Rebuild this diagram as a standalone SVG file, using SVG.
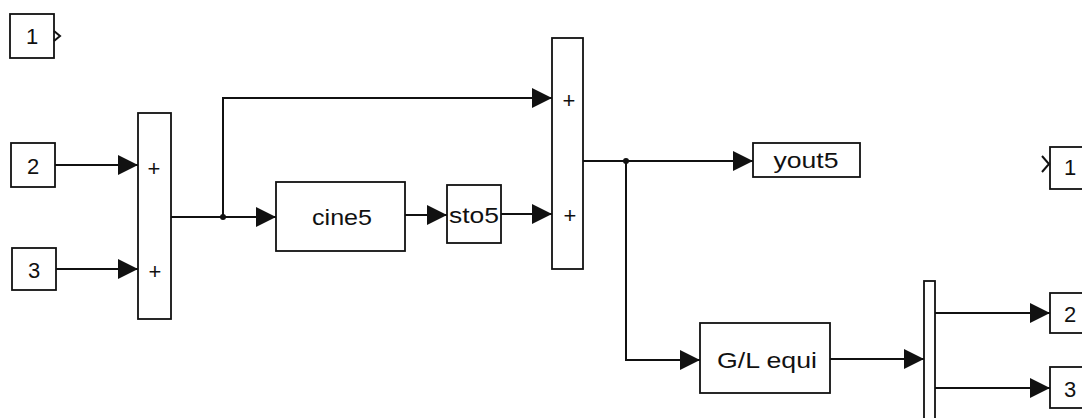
<svg xmlns="http://www.w3.org/2000/svg" width="1082" height="418" viewBox="0 0 1082 418">
  <style>
    .blk { fill: #fff; stroke: #111; stroke-width: 1.8; }
    .wire { fill: none; stroke: #111; stroke-width: 2; }
    .lbl { font-family: "Liberation Sans", Arial, sans-serif; font-size: 22px; fill: #111; text-anchor: middle; dominant-baseline: central; }
    .sign { font-family: "Liberation Sans", Arial, sans-serif; font-size: 22px; fill: #111; text-anchor: middle; dominant-baseline: central; }
  </style>
  <defs>
    <marker id="arr" markerUnits="userSpaceOnUse" markerWidth="20" markerHeight="20" refX="20" refY="10" orient="auto">
      <path d="M0,0 L20,10 L0,20 Z" fill="#111"/>
    </marker>
  </defs>

  <rect width="1082" height="418" fill="#fff"/>

  <!-- connectors -->
  <g id="connectors">
    <path class="wire" d="M55,165 H138" marker-end="url(#arr)"/>
    <path class="wire" d="M56,269 H138" marker-end="url(#arr)"/>
    <path class="wire" d="M171,217 H276" marker-end="url(#arr)"/>
    <path class="wire" d="M223,217 V98 H552" marker-end="url(#arr)"/>
    <circle cx="223" cy="217" r="3" fill="#111"/>
    <path class="wire" d="M405,215 H447" marker-end="url(#arr)"/>
    <path class="wire" d="M501,214 H552" marker-end="url(#arr)"/>
    <path class="wire" d="M583,161 H753" marker-end="url(#arr)"/>
    <path class="wire" d="M626,161 V360 H700" marker-end="url(#arr)"/>
    <circle cx="626" cy="161" r="3" fill="#111"/>
    <path class="wire" d="M830,359 H924" marker-end="url(#arr)"/>
    <path class="wire" d="M935,313 H1050" marker-end="url(#arr)"/>
    <path class="wire" d="M935,388 H1050" marker-end="url(#arr)"/>
  </g>

  <!-- inport 1 -->
  <g id="in1">
    <rect class="blk" x="10" y="14" width="44" height="44"/>
    <text class="lbl" x="32" y="36">1</text>
    <polyline class="wire" stroke-width="1.5" points="54,31 60,36 54,41"/>
  </g>

  <!-- inport 2 -->
  <g id="in2">
    <rect class="blk" x="11" y="143" width="44" height="44"/>
    <text class="lbl" x="33" y="166">2</text>
  </g>

  <!-- inport 3 -->
  <g id="in3">
    <rect class="blk" x="12" y="248" width="44" height="42"/>
    <text class="lbl" x="34" y="270">3</text>
  </g>

  <!-- first summing junction -->
  <g id="sum1">
    <rect class="blk" x="138" y="113" width="33" height="206"/>
    <text class="sign" x="154" y="168">+</text>
    <text class="sign" x="155" y="271">+</text>
  </g>

  <!-- cine5 block -->
  <g id="cine5">
    <rect class="blk" x="276" y="182" width="129" height="69"/>
    <text class="lbl" x="342" y="217" textLength="60" lengthAdjust="spacingAndGlyphs">cine5</text>
  </g>

  <!-- sto5 block -->
  <g id="sto5">
    <rect class="blk" x="447" y="185" width="54" height="58"/>
    <text class="lbl" x="474" y="215" textLength="50" lengthAdjust="spacingAndGlyphs">sto5</text>
  </g>

  <!-- second summing junction -->
  <g id="sum2">
    <rect class="blk" x="552" y="38" width="31" height="231"/>
    <text class="sign" x="569" y="100">+</text>
    <text class="sign" x="570" y="215">+</text>
  </g>

  <!-- yout5 sink -->
  <g id="yout5">
    <rect class="blk" x="753" y="143" width="107" height="34"/>
    <text class="lbl" x="806" y="160" textLength="65" lengthAdjust="spacingAndGlyphs">yout5</text>
  </g>

  <!-- G/L equi block -->
  <g id="glequi">
    <rect class="blk" x="700" y="323" width="130" height="70"/>
    <text class="lbl" x="767" y="360" textLength="100" lengthAdjust="spacingAndGlyphs">G/L equi</text>
  </g>

  <!-- demux bar -->
  <g id="demux">
    <rect class="blk" x="924" y="281" width="11" height="150"/>
  </g>

  <!-- outport 1 -->
  <g id="out1">
    <rect class="blk" x="1050" y="147" width="44" height="42"/>
    <text class="lbl" x="1070" y="167">1</text>
    <polyline class="wire" stroke-width="1.5" points="1042,156 1049,164 1042,172"/>
  </g>

  <!-- outport 2 -->
  <g id="out2">
    <rect class="blk" x="1050" y="293" width="44" height="40"/>
    <text class="lbl" x="1070" y="314">2</text>
  </g>

  <!-- outport 3 -->
  <g id="out3">
    <rect class="blk" x="1050" y="367" width="44" height="41"/>
    <text class="lbl" x="1070" y="389">3</text>
  </g>
</svg>
